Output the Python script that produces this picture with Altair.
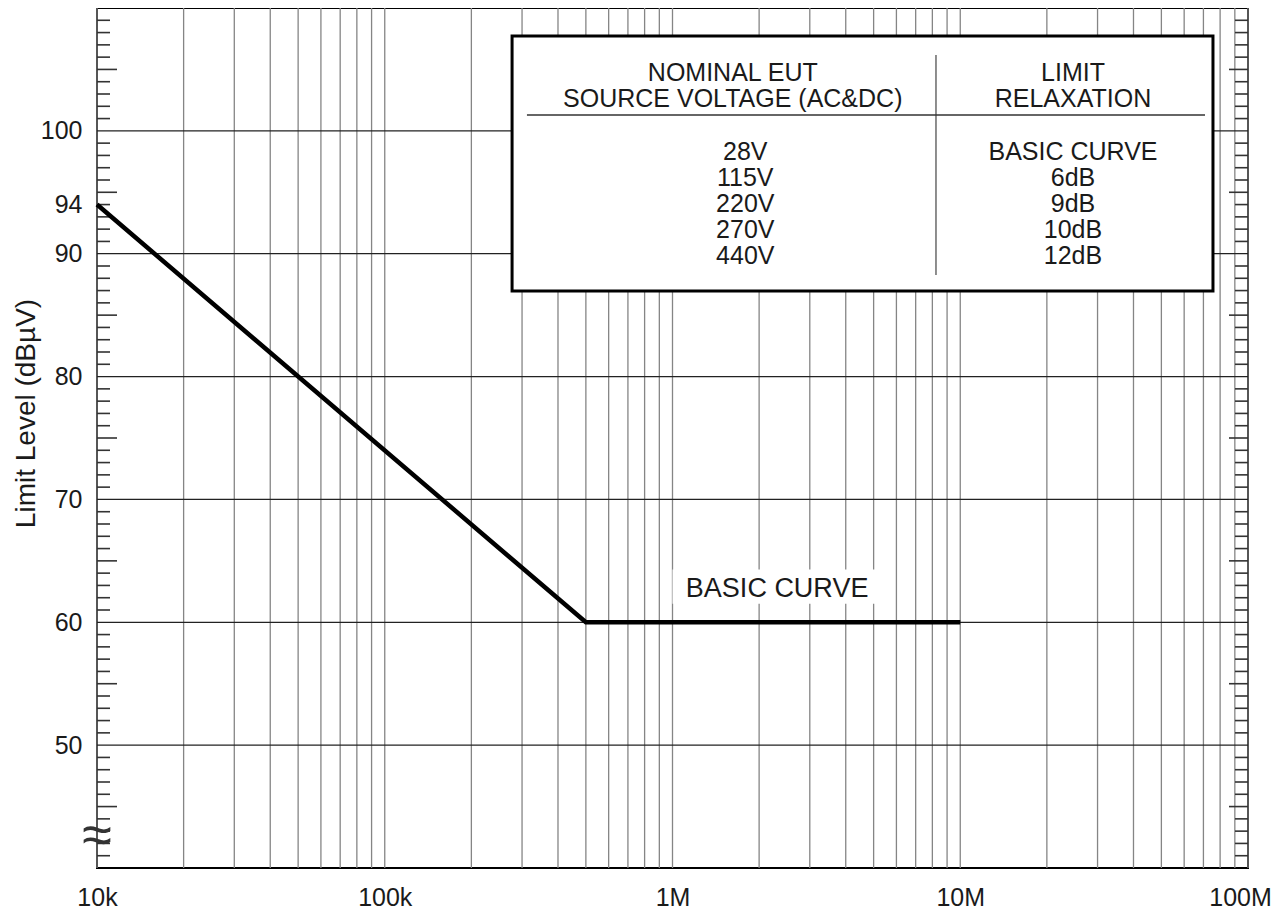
import altair as alt
import pandas as pd

# ---- data ----
curve_freq = [1e4, 5e5, 1e7]
curve_level = [94, 60, 60]

x_decades = [1e4, 1e5, 1e6, 1e7, 1e8]
x_decade_labels = ["10k", "100k", "1M", "10M", "100M"]
x_grid = [m * 10 ** e for e in range(4, 8) for m in range(1, 10)] + [1e8]

y_label_vals = [50, 60, 70, 80, 90, 94, 100]
y_grid = [50, 60, 70, 80, 90, 100]
y_minor = [v for v in range(41, 110) if v % 5 != 0]
y_mid = [45, 55, 65, 75, 85, 95, 105]

hdr_left = ["NOMINAL EUT", "SOURCE VOLTAGE (AC&DC)"]
hdr_right = ["LIMIT", "RELAXATION"]
voltages = ["28V", "115V", "220V", "270V", "440V"]
relaxation = ["BASIC CURVE", "6dB", "9dB", "10dB", "12dB"]

# ---- layout (annotation placement in data units) ----
box_x = [2.77e5, 7.556e7]
box_y = [86.96, 107.72]
divider_x = 8.235e6
divider_y = [88.27, 106.17]
hline_x = [3.12e5, 7.09e7]
hline_y = 101.29
col_left_hdr_x = 1.62e6
col_left_x = 1.79e6
col_right_x = 2.465e7
hdr_rows_y = [104.71, 102.6]
rows_y = [98.28, 96.16, 94.05, 91.93, 89.81]

W, H = 1151, 860
FONT = "Liberation Sans"
xs = alt.Scale(type="log", domain=[1e4, 1e8], nice=False)
ys = alt.Scale(domain=[40, 110], nice=False, zero=False)

label_expr = " : ".join(
    f"datum.value == {int(v)} ? '{l}'" for v, l in zip(x_decades, x_decade_labels)
) + " : ''"

vgrid = alt.Chart(pd.DataFrame({"f": x_grid})).mark_rule(
    color="#858585", strokeWidth=1.3
).encode(
    x=alt.X("f:Q", scale=xs, axis=alt.Axis(
        orient="bottom", values=x_decades, labelExpr=label_expr, ticks=False, domain=False,
        grid=False, labelPadding=17, labelFlush=False, labelOverlap=False, title=None,
        labelOffset={"condition": {"test": f"datum.value == {int(x_decades[-1])}", "value": -8}, "value": 0},
        labelFontSize=25, labelFont=FONT, labelColor="#1a1a1a"))
)

hgrid = alt.Chart(pd.DataFrame({"y": y_grid})).mark_rule(
    color="#222", strokeWidth=1.3
).encode(
    y=alt.Y("y:Q", scale=ys, axis=alt.Axis(
        orient="left", values=y_label_vals, ticks=False, domain=False, grid=False,
        labelPadding=15, labelFontSize=25, labelFont=FONT, labelColor="#1a1a1a",
        labelFlush=False, labelOverlap=False,
        title="Limit Level (dB\u00b5V)", titleX=-63, titleY=405, titleAngle=-90,
        titleBaseline="alphabetic", titleAlign="center", titleFontSize=28,
        titleFontWeight="normal", titleFont=FONT, titleColor="#1a1a1a"))
)

minor_df = pd.DataFrame({"y": y_minor})
mid_df = pd.DataFrame({"y": y_mid})
tick_style = dict(color="#333", strokeWidth=1.6)
ticks = [
    alt.Chart(minor_df).mark_rule(**tick_style).encode(
        y=alt.Y("y:Q", scale=ys, axis=None), x=alt.value(0), x2=alt.value(13)),
    alt.Chart(mid_df).mark_rule(**tick_style).encode(
        y=alt.Y("y:Q", scale=ys, axis=None), x=alt.value(0), x2=alt.value(20)),
    alt.Chart(minor_df).mark_rule(**tick_style).encode(
        y=alt.Y("y:Q", scale=ys, axis=None), x=alt.value(W - 13), x2=alt.value(W)),
    alt.Chart(mid_df).mark_rule(**tick_style).encode(
        y=alt.Y("y:Q", scale=ys, axis=None), x=alt.value(W - 19), x2=alt.value(W)),
]

# white patch behind "BASIC CURVE"
label_bg = alt.Chart(pd.DataFrame({"x": [1.0e6], "x2": [5.4e6], "y": [61.5], "y2": [64.3]})).mark_rect(
    fill="white").encode(
    x=alt.X("x:Q", scale=xs, axis=None), x2="x2",
    y=alt.Y("y:Q", scale=ys, axis=None), y2="y2")

curve = alt.Chart(pd.DataFrame({"f": curve_freq, "lvl": curve_level})).mark_line(
    color="black", strokeWidth=4.5, strokeCap="butt", strokeJoin="miter"
).encode(
    x=alt.X("f:Q", scale=xs, axis=None),
    y=alt.Y("lvl:Q", scale=ys, axis=None),
)

curve_label = alt.Chart(pd.DataFrame({"f": [2.31e6], "y": [62.75], "t": ["BASIC CURVE"]})).mark_text(
    font=FONT, fontSize=27, color="#1a1a1a", baseline="middle", align="center"
).encode(x=alt.X("f:Q", scale=xs, axis=None), y=alt.Y("y:Q", scale=ys, axis=None), text="t:N")

box = alt.Chart(pd.DataFrame({"x": [box_x[0]], "x2": [box_x[1]], "y": [box_y[0]], "y2": [box_y[1]]})).mark_rect(
    fill="white", stroke="black", strokeWidth=3).encode(
    x=alt.X("x:Q", scale=xs, axis=None), x2="x2",
    y=alt.Y("y:Q", scale=ys, axis=None), y2="y2")

divider = alt.Chart(pd.DataFrame({"x": [divider_x], "y": [divider_y[0]], "y2": [divider_y[1]]})).mark_rule(
    color="#444", strokeWidth=1.2).encode(
    x=alt.X("x:Q", scale=xs, axis=None),
    y=alt.Y("y:Q", scale=ys, axis=None), y2="y2")

hline = alt.Chart(pd.DataFrame({"x": [hline_x[0]], "x2": [hline_x[1]], "y": [hline_y]})).mark_rule(
    color="#333", strokeWidth=1.6).encode(
    x=alt.X("x:Q", scale=xs, axis=None), x2="x2",
    y=alt.Y("y:Q", scale=ys, axis=None))

txt_rows = []
for t, yv in zip(hdr_left, hdr_rows_y):
    txt_rows.append({"x": col_left_hdr_x, "y": yv, "t": t})
for t, yv in zip(hdr_right, hdr_rows_y):
    txt_rows.append({"x": col_right_x, "y": yv, "t": t})
for t, yv in zip(voltages, rows_y):
    txt_rows.append({"x": col_left_x, "y": yv, "t": t})
for t, yv in zip(relaxation, rows_y):
    txt_rows.append({"x": col_right_x, "y": yv, "t": t})

table_text = alt.Chart(pd.DataFrame(txt_rows)).mark_text(
    font=FONT, fontSize=25, color="#1a1a1a", baseline="middle", align="center"
).encode(x=alt.X("x:Q", scale=xs, axis=None), y=alt.Y("y:Q", scale=ys, axis=None), text="t:N")

tilde = alt.Chart(pd.DataFrame({"x": [1e4], "y": [42.5], "t": ["\u2248"]})).mark_text(
    font=FONT, fontSize=54, color="#333", baseline="middle", align="center"
).encode(x=alt.X("x:Q", scale=xs, axis=None), y=alt.Y("y:Q", scale=ys, axis=None), text="t:N")

chart = alt.layer(
    vgrid, hgrid, *ticks, label_bg, curve, curve_label, box, divider, hline, table_text, tilde
).resolve_axis(
    x="independent", y="independent"
).properties(
    width=W, height=H,
    background="white",
    autosize=alt.AutoSizeParams(type="none"),
    padding={"left": 89, "top": 0, "right": 29, "bottom": 45},
).configure_view(
    stroke="black", strokeWidth=2
)

chart.save("out.html", embed_options={"renderer": "svg", "actions": False})
